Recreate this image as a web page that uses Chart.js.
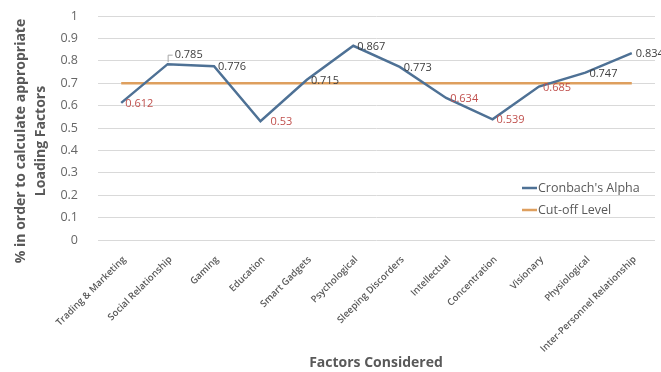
<!DOCTYPE html>
<html lang="en">
<head>
<meta charset="UTF-8">
<title>Cronbach's Alpha per factor</title>
<script src="https://cdn.jsdelivr.net/npm/chart.js"></script>
<style>
  html, body { margin: 0; padding: 0; background: #fff; }
  .chart-box { width: 661px; height: 372px; position: relative; }
</style>
</head>
<body>
<div class="chart-box">
  <canvas id="alphaChart"></canvas>
</div>

<script>
  // factors on the x axis
  const factors = ['Trading & Marketing', 'Social Relationship', 'Gaming', 'Education',
    'Smart Gadgets', 'Psychological', 'Sleeping Discorders', 'Intellectual',
    'Concentration', 'Visionary', 'Physiological', 'Inter-Personnel Relationship'];

  // values
  const alphaValues = [0.612, 0.785, 0.776, 0.53, 0.715, 0.867, 0.773, 0.634, 0.539, 0.685, 0.747, 0.834];
  const cutOffValues = [0.7, 0.7, 0.7, 0.7, 0.7, 0.7, 0.7, 0.7, 0.7, 0.7, 0.7, 0.7];

  const seriesNames = ["Cronbach's Alpha", 'Cut-off Level'];
  const yTitle = ['% in order to calculate appropriate', 'Loading Factors'];
  const xTitle = 'Factors Considered';

  const BLUE = '#4E7195';
  const ORANGE = '#DE9F5E';
  const GREY = '#595959';
  const FONT = '"Open Sans", sans-serif';

  // labels, legend and axis titles drawn by hand (excel style)
  const extrasPlugin = {
    id: 'extras',
    afterDraw(chart) {
      const ctx = chart.ctx;
      const meta = chart.getDatasetMeta(0);
      const cut = cutOffValues[0];

      ctx.save();
      ctx.font = '11px ' + FONT;
      ctx.textBaseline = 'middle';
      ctx.textAlign = 'left';
      meta.data.forEach((pt, i) => {
        const v = alphaValues[i];
        ctx.fillStyle = v < cut ? '#C0504D' : '#404040';
        let dx = 4, dy = 1;
        if (i === 1) {
          // label pushed up, with small leader
          dx = 7; dy = -9;
          ctx.strokeStyle = '#A6A6A6';
          ctx.lineWidth = 1;
          ctx.beginPath();
          ctx.moveTo(pt.x + 0.5, pt.y - 2);
          ctx.lineTo(pt.x + 0.5, pt.y - 9);
          ctx.lineTo(pt.x + 5, pt.y - 9);
          ctx.stroke();
        }
        if (i === 3) dx = 10;
        ctx.fillText(String(v), pt.x + dx, pt.y + dy);
      });

      // legend inside plot area
      const area = chart.chartArea;
      const lx = area.right - 133, ly = area.top + 172;
      ctx.font = '12.5px ' + FONT;
      ctx.fillStyle = GREY;
      [BLUE, ORANGE].forEach((c, i) => {
        const y = ly + i * 22;
        ctx.strokeStyle = c;
        ctx.lineWidth = 2.5;
        ctx.beginPath();
        ctx.moveTo(lx, y);
        ctx.lineTo(lx + 15, y);
        ctx.stroke();
        ctx.fillText(seriesNames[i], lx + 16, y);
      });

      // axis titles
      ctx.font = 'bold 14px ' + FONT;
      ctx.fillStyle = GREY;
      ctx.textAlign = 'center';
      ctx.fillText(xTitle, 376, 363);

      ctx.translate(31, 141);
      ctx.rotate(-Math.PI / 2);
      ctx.fillText(yTitle[0], 0, -10);
      ctx.fillText(yTitle[1], 0, 10);
      ctx.restore();
    }
  };

  const ctx = document.getElementById('alphaChart').getContext('2d');
  const chart = new Chart(ctx, {
    type: 'line',
    data: {
      labels: factors,
      datasets: [{
        label: seriesNames[0],
        data: alphaValues,
        borderColor: BLUE,
        backgroundColor: BLUE,
        borderWidth: 2.5,
        pointRadius: 0,
        tension: 0
      }, {
        label: seriesNames[1],
        data: cutOffValues,
        borderColor: ORANGE,
        backgroundColor: ORANGE,
        borderWidth: 2.5,
        pointRadius: 0,
        tension: 0
      }]
    },
    options: {
      responsive: true,
      maintainAspectRatio: false,
      animation: false,
      layout: { padding: { top: 16, right: 6, left: 0, bottom: 0 } },
      plugins: {
        legend: { display: false },
        tooltip: { enabled: false }
      },
      scales: {
        x: {
          offset: true,
          grid: { display: false },
          border: { display: false },
          ticks: {
            autoSkip: false,
            minRotation: 45,
            maxRotation: 45,
            padding: 6,
            labelOffset: 3,
            color: GREY,
            font: { family: FONT, size: 9.5, weight: '600' }
          },
          afterFit(scale) { scale.height = 132; }
        },
        y: {
          min: 0,
          max: 1,
          grid: { color: '#D9D9D9', drawTicks: false },
          border: { display: false },
          ticks: {
            stepSize: 0.1,
            padding: 20,
            color: '#666666',
            font: { family: FONT, size: 12.5 },
            callback: v => String(Number(v.toFixed(1)))
          },
          afterFit(scale) {
            scale.width = 98;
            scale.paddingTop = 0;
            scale.paddingBottom = 0;
          }
        }
      }
    },
    plugins: [extrasPlugin]
  });
</script>
</body>
</html>
